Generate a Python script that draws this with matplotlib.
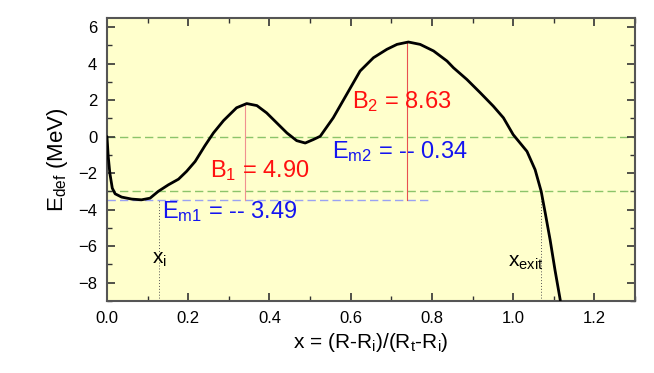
import matplotlib
matplotlib.use("Agg")
import matplotlib.pyplot as plt
from matplotlib.ticker import MultipleLocator

plt.rcParams['font.family'] = ['Liberation Sans', 'DejaVu Sans']
plt.rcParams['mathtext.default'] = 'regular'

# deformation energy curve
x_curve = [0.0, 0.003, 0.007, 0.013, 0.02, 0.036, 0.061, 0.085, 0.106, 0.126, 0.151,
           0.176, 0.196, 0.217, 0.241, 0.262, 0.287, 0.319, 0.344, 0.369, 0.393,
           0.418, 0.443, 0.467, 0.488, 0.508, 0.525, 0.557, 0.59, 0.623, 0.656,
           0.689, 0.714, 0.742, 0.771, 0.804, 0.837, 0.853, 0.886, 0.919, 0.951,
           0.976, 1.0, 1.034, 1.054, 1.069, 1.079, 1.091, 1.103, 1.116]
e_curve = [0.0, -1.08, -2.0, -2.82, -3.13, -3.31, -3.42, -3.46, -3.37, -3.0, -2.64,
           -2.33, -1.9, -1.36, -0.5, 0.2, 0.88, 1.58, 1.81, 1.70, 1.30,
           0.75, 0.20, -0.22, -0.35, -0.16, 0.02, 1.03, 2.31, 3.59, 4.32,
           4.78, 5.05, 5.18, 5.05, 4.69, 4.14, 3.77, 3.13, 2.40, 1.67,
           1.03, 0.11, -0.81, -1.81, -3.0, -4.19, -5.66, -7.31, -8.96]

ref_levels = [0.0, -3.0]
Em1 = -3.49
Em2 = -0.34
B1_x, B1_top = 0.34, 1.8
B2_x, B2_top = 0.739, 5.17
x_i = 0.128
x_exit = 1.068

fig = plt.figure(figsize=(6.54, 3.73), dpi=100)
ax = fig.add_axes([0.1636, 0.193, 0.8074, 0.759])
ax.set_facecolor('#ffffcc')

for lv in ref_levels:
    ax.axhline(lv, color='#8cc46a', lw=1.0, ls=(0, (6, 3)), zorder=1)
ax.plot([0.0, 0.80], [Em1, Em1], color='#9aa2f2', lw=1.0, ls=(0, (6, 3)), zorder=1)

ax.plot([B1_x, B1_x], [Em1, B1_top], color='#f09090', lw=0.8, zorder=2)
ax.plot([B2_x, B2_x], [Em1, B2_top], color='#e85050', lw=0.8, zorder=2)

ax.plot([x_i, x_i], [-9, Em1], color='#555555', lw=0.7, ls=(0, (1, 2)), zorder=2)
ax.plot([x_exit, x_exit], [-9, -3.0], color='#555555', lw=0.7, ls=(0, (1, 2)), zorder=2)

ax.plot(x_curve, e_curve, color='black', lw=2.0, zorder=3,
        solid_joinstyle='round', solid_capstyle='round')

fs = 17
ax.text(0.254, -1.87, 'B$_1$ = 4.90', color='#ff1010', fontsize=fs, va='center', ha='left')
ax.text(0.603, 1.9, 'B$_2$ = 8.63', color='#ff1010', fontsize=fs, va='center', ha='left')
ax.text(0.554, -0.82, 'E$_{m2}$ = -- 0.34', color='#1414f0', fontsize=fs, va='center', ha='left')
ax.text(0.135, -4.1, 'E$_{m1}$ = -- 3.49', color='#1414f0', fontsize=fs, va='center', ha='left')
ax.text(0.11, -6.75, 'x$_i$', color='black', fontsize=15, va='center', ha='left')
ax.text(0.988, -6.9, 'x$_{exit}$', color='black', fontsize=15, va='center', ha='left')

ax.set_xlim(0, 1.3)
ax.set_ylim(-9, 6.5)
ax.xaxis.set_major_locator(MultipleLocator(0.2))
ax.xaxis.set_minor_locator(MultipleLocator(0.1))
ax.yaxis.set_minor_locator(MultipleLocator(1))
ax.set_yticks([-8, -6, -4, -2, 0, 2, 4, 6])
ax.tick_params(which='both', direction='in', top=True, right=True, labelsize=12, color='#333333')
ax.tick_params(which='major', length=6, width=1.2, pad=7)
ax.tick_params(which='minor', length=3.5, width=1.0)
for s in ax.spines.values():
    s.set_color('#555555')
    s.set_linewidth(1.5)

ax.set_xlabel('x = (R-R$_i$)/(R$_t$-R$_i$)', fontsize=15, labelpad=4)
ax.set_ylabel('E$_{def}$ (MeV)', fontsize=16, labelpad=6)

fig.savefig('out.png', dpi=100, facecolor='white')
